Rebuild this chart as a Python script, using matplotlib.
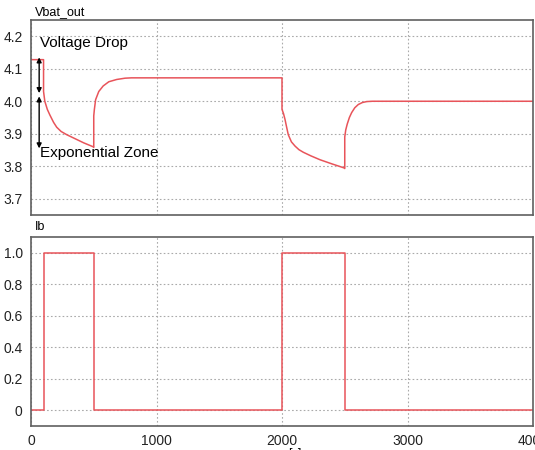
import matplotlib
matplotlib.use("Agg")
import matplotlib.pyplot as plt

# Battery voltage (time [s], voltage [V])
t_v = [0, 100, 100, 110, 130, 150, 180, 205, 240, 285, 350, 420, 495, 500, 500, 505, 515, 540, 575, 620, 683, 750, 800,
       2000, 2000, 2012, 2024, 2037, 2050, 2075, 2104, 2135, 2170, 2230, 2303, 2400, 2494, 2500, 2500, 2508, 2520, 2537, 2555, 2580, 2608, 2640, 2675, 2720, 4000]
v = [4.128, 4.128, 4.03, 4.0, 3.975, 3.958, 3.935, 3.92, 3.907, 3.897, 3.885, 3.872, 3.86, 3.858, 3.955, 3.975, 4.005, 4.03, 4.047, 4.06, 4.067, 4.071, 4.072,
     4.072, 3.975, 3.962, 3.944, 3.92, 3.897, 3.875, 3.862, 3.851, 3.843, 3.832, 3.82, 3.807, 3.795, 3.793, 3.89, 3.912, 3.93, 3.95, 3.965, 3.98, 3.99, 3.996, 3.999, 4.0, 4.0]

# Battery current (time [s], current)
t_i = [0, 100, 100, 500, 500, 2000, 2000, 2500, 2500, 4000]
ib = [0, 0, 1, 1, 0, 0, 1, 1, 0, 0]

top_ticks = [3.7, 3.8, 3.9, 4.0, 4.1, 4.2]
top_labels = ["3.7", "3.8", "3.9", "4.0", "4.1", "4.2"]
bot_ticks = [0, 0.2, 0.4, 0.6, 0.8, 1.0]
bot_labels = ["0", "0.2", "0.4", "0.6", "0.8", "1.0"]
x_ticks = [0, 1000, 2000, 3000, 4000]
x_labels = ["0", "1000", "2000", "3000", "4000"]

line_color = "#e8545a"
spine_color = "#606060"
grid_kw = dict(color="#aaaaaa", linestyle=(0, (1.5, 2)), linewidth=0.8)

plt.rcParams['font.family'] = ['Liberation Sans', 'DejaVu Sans']
fig = plt.figure(figsize=(5.35, 4.5), dpi=100)
W, H = 535, 450
ax1 = fig.add_axes([31 / W, 1 - 215 / H, (533 - 31) / W, (215 - 20) / H])
ax2 = fig.add_axes([31 / W, 1 - 426 / H, (533 - 31) / W, (426 - 237) / H])

for ax in (ax1, ax2):
    ax.set_xlim(0, 4000)
    ax.set_xticks(x_ticks)
    ax.grid(True, **grid_kw)
    ax.tick_params(length=0, labelsize=10, colors="#222222", pad=6)
    for s in ax.spines.values():
        s.set_color(spine_color)
        s.set_linewidth(1.2)

ax1.plot(t_v, v, color=line_color, linewidth=1.1)
ax1.set_ylim(3.65, 4.25)
ax1.set_yticks(top_ticks)
ax1.set_yticklabels(top_labels)
ax1.set_xticklabels([])
ax1.text(0.008, 1.012, "Vbat_out", transform=ax1.transAxes, fontsize=9, ha="left", va="bottom")

ax2.plot(t_i, ib, color=line_color, linewidth=1.1)
ax2.set_ylim(-0.1, 1.1)
ax2.set_yticks(bot_ticks)
ax2.set_yticklabels(bot_labels)
ax2.set_xticklabels(x_labels)
ax2.text(0.008, 1.02, "Ib", transform=ax2.transAxes, fontsize=9, ha="left", va="bottom")

# annotations
ax1.annotate("", xy=(65, 4.135), xytext=(65, 4.025),
             arrowprops=dict(arrowstyle="<|-|>", color="black", lw=1, mutation_scale=7, shrinkA=0, shrinkB=0))
ax1.annotate("", xy=(65, 4.015), xytext=(65, 3.855),
             arrowprops=dict(arrowstyle="<|-|>", color="black", lw=1, mutation_scale=7, shrinkA=0, shrinkB=0))
ax1.text(70, 4.18, "Voltage Drop", fontsize=11, ha="left", va="center")
ax1.text(70, 3.84, "Exponential Zone", fontsize=11, ha="left", va="center")

fig.text(295 / W, 1 - 454 / H, "[s]", fontsize=9, ha="center", va="center")

fig.savefig("out.png", dpi=100)
